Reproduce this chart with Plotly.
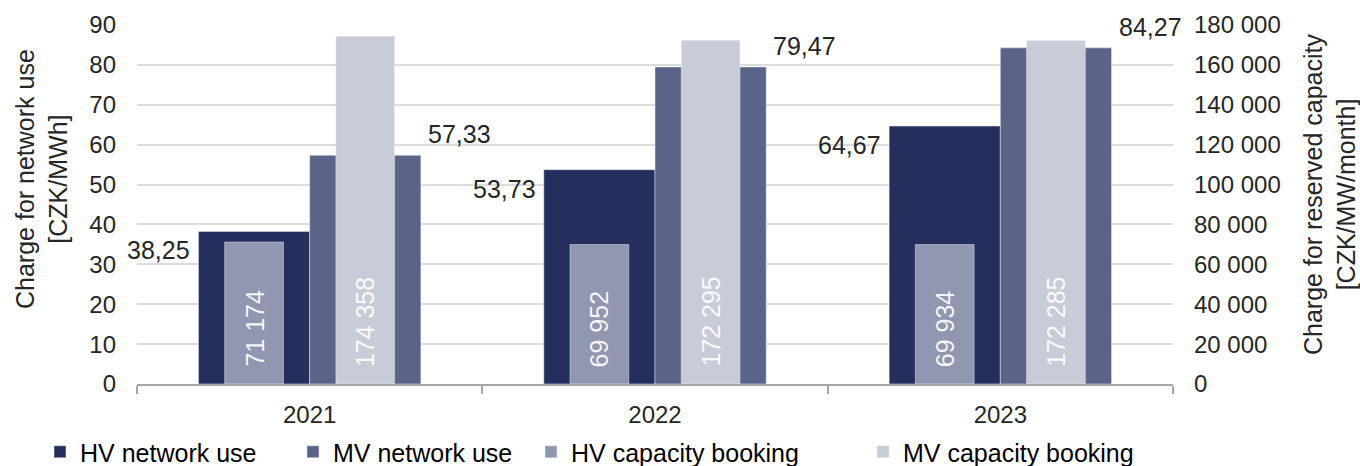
import plotly.graph_objects as go

# Network-use charges (CZK/MWh) and capacity booking charges (CZK/MW/month)
years = ["2021", "2022", "2023"]
hv_network_use = [38.25, 53.73, 64.67]
mv_network_use = [57.33, 79.47, 84.27]
hv_capacity_booking = [71174, 69952, 69934]
mv_capacity_booking = [174358, 172295, 172285]

series_names = ["HV network use", "MV network use", "HV capacity booking", "MV capacity booking"]
colors = ["#252F5E", "#5A6488", "#9197B0", "#C8CCD8"]

FONT = "Liberation Sans, Arial, sans-serif"
TXT = "#262626"

W, H = 1360, 466
ML, MR, MT, MB = 137, 187, 25, 82
plot_w = W - ML - MR
plot_h = H - MT - MB
cat_px = plot_w / len(years)

w_main = 0.322   # width of network-use bars (category units)
w_cap = 0.17     # width of capacity bars (category units)

fig = go.Figure()

fig.add_trace(go.Bar(name=series_names[0], x=years, y=hv_network_use,
                     marker_color=colors[0], width=w_main, offset=-w_main,
                     legend="legend"))
fig.add_trace(go.Bar(name=series_names[1], x=years, y=mv_network_use,
                     marker_color=colors[1], width=w_main, offset=0,
                     legend="legend2"))
fig.add_trace(go.Bar(name=series_names[2], x=years, y=hv_capacity_booking,
                     marker_color=colors[2], width=w_cap,
                     offset=-w_main / 2 - w_cap / 2, yaxis="y2",
                     legend="legend3"))
fig.add_trace(go.Bar(name=series_names[3], x=years, y=mv_capacity_booking,
                     marker_color=colors[3], width=w_cap,
                     offset=w_main / 2 - w_cap / 2, yaxis="y2",
                     legend="legend4"))

annotations = []
half_px = w_main * cat_px / 2

def fmt_dec(v):
    return f"{v:.2f}".replace(".", ",")

def fmt_int(v):
    return f"{v:,}".replace(",", " ")

# category positions are given by index so they are not read as numbers
for i, (hv, mv) in enumerate(zip(hv_network_use, mv_network_use)):
    annotations.append(dict(x=i, y=hv, xref="x", yref="y", text=fmt_dec(hv),
                            showarrow=False, xanchor="right", yanchor="middle",
                            xshift=-(2 * half_px + 6), yshift=-19,
                            font=dict(family=FONT, size=25, color=TXT)))
    annotations.append(dict(x=i, y=mv, xref="x", yref="y", text=fmt_dec(mv),
                            showarrow=False, xanchor="left", yanchor="middle",
                            xshift=(2 * half_px + 5), yshift=21,
                            font=dict(family=FONT, size=25, color=TXT)))

for i, (hvc, mvc) in enumerate(zip(hv_capacity_booking, mv_capacity_booking)):
    for val, sh in ((hvc, -half_px), (mvc, half_px)):
        annotations.append(dict(x=i, y=0, xref="x", yref="y2", text=fmt_int(val),
                                showarrow=False, textangle=-90,
                                xanchor="center", yanchor="bottom",
                                xshift=sh, yshift=15,
                                font=dict(family=FONT, size=25,
                                          color="rgba(255,255,255,0.92)")))

# Axis titles
annotations.append(dict(x=(41 - ML) / plot_w, y=(384 - 179) / plot_h,
                        xref="paper", yref="paper", showarrow=False,
                        text="Charge for network use<br>[CZK/MWh]", textangle=-90,
                        xanchor="center", yanchor="middle",
                        font=dict(family=FONT, size=25, color=TXT)))
annotations.append(dict(x=(1330 - ML) / plot_w, y=(384 - 195) / plot_h,
                        xref="paper", yref="paper", showarrow=False,
                        text="Charge for reserved capacity<br>[CZK/MW/month]", textangle=-90,
                        xanchor="center", yanchor="middle",
                        font=dict(family=FONT, size=25, color=TXT)))

leg_y = (384 - 452) / plot_h
leg_common = dict(orientation="h", yanchor="middle", y=leg_y, xanchor="left",
                  bgcolor="rgba(0,0,0,0)", font=dict(family=FONT, size=25, color="#000000"))
text_starts = [82, 335, 573, 905]
legends = {}
for i, key in enumerate(["legend", "legend2", "legend3", "legend4"]):
    legends[key] = dict(leg_common, x=(text_starts[i] - 42 - ML) / plot_w)

fig.update_layout(
    width=W, height=H,
    margin=dict(l=ML, r=MR, t=MT, b=MB, autoexpand=False),
    paper_bgcolor="white", plot_bgcolor="white",
    barmode="overlay",
    separators=", ",
    font=dict(family=FONT, size=24, color=TXT),
    showlegend=True,
    annotations=annotations,
    xaxis=dict(type="category", range=[-0.5, len(years) - 0.5],
               showline=True, linecolor="#A6A6A6", linewidth=2,
               ticks="outside", tickson="boundaries", ticklen=8, tickwidth=2,
               tickcolor="#A6A6A6", showgrid=False, ticklabelstandoff=8,
               tickfont=dict(family=FONT, size=24, color=TXT)),
    yaxis=dict(range=[0, 90], dtick=10, showgrid=True, gridcolor="#DDDDDD",
               gridwidth=2, zeroline=False, showline=False, ticks="",
               ticklabelstandoff=20,
               tickfont=dict(family=FONT, size=24, color=TXT)),
    yaxis2=dict(range=[0, 180000], dtick=20000, overlaying="y", side="right",
                showgrid=False, zeroline=False, showline=False, ticks="",
                tickformat=",d", ticklabelstandoff=20,
                tickfont=dict(family=FONT, size=24, color=TXT)),
    **legends,
)

fig.write_html("out.html")
